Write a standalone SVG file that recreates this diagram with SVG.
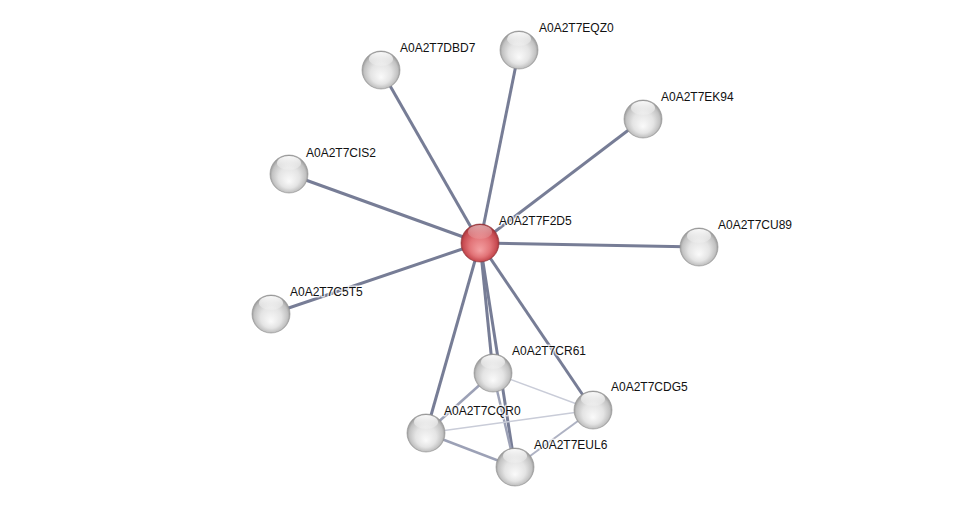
<svg xmlns="http://www.w3.org/2000/svg" width="976" height="512" viewBox="0 0 976 512">
<defs>
<radialGradient id="gw" cx="50%" cy="50%" r="55%" fx="50%" fy="70%">
<stop offset="0" stop-color="#fafafa"/>
<stop offset="0.5" stop-color="#e4e4e4"/>
<stop offset="0.8" stop-color="#c2c2c2"/>
<stop offset="1" stop-color="#7e7e7e"/>
</radialGradient>
<radialGradient id="gr" cx="50%" cy="50%" r="55%" fx="50%" fy="70%">
<stop offset="0" stop-color="#f4a0a2"/>
<stop offset="0.5" stop-color="#e27478"/>
<stop offset="0.8" stop-color="#c84c52"/>
<stop offset="1" stop-color="#8a262b"/>
</radialGradient>
<linearGradient id="hl" x1="0" y1="0" x2="0" y2="1">
<stop offset="0" stop-color="#ffffff" stop-opacity="0.95"/>
<stop offset="1" stop-color="#ffffff" stop-opacity="0.15"/>
</linearGradient>
</defs>
<style>
.e{stroke:#777d96;stroke-width:3;fill:none}
.m{stroke:#9ca1b6;stroke-width:2.5;fill:none}
.l{stroke:#c9ccd8;stroke-width:1.5;fill:none}
.ball{stroke:#8f8f8f;stroke-width:0.6}
text{font-family:"Liberation Sans",Arial,sans-serif;font-size:12px;fill:#111;stroke:#fff;stroke-width:3;stroke-opacity:0.7;paint-order:stroke;stroke-linejoin:round}
</style>
<rect width="976" height="512" fill="#fff"/>
<g id="edges">
<line class="e" x1="480" y1="243" x2="381" y2="70"/>
<line class="e" x1="480" y1="243" x2="519" y2="50"/>
<line class="e" x1="480" y1="243" x2="643" y2="119"/>
<line class="e" x1="480" y1="243" x2="289" y2="174"/>
<line class="e" x1="480" y1="243" x2="699" y2="247"/>
<line class="e" x1="480" y1="243" x2="271" y2="314"/>
<line class="e" x1="480" y1="243" x2="493" y2="373"/>
<line class="e" x1="480" y1="243" x2="593" y2="410"/>
<line class="e" x1="480" y1="243" x2="426" y2="433"/>
<line class="e" x1="480" y1="243" x2="515" y2="467"/>
<line class="m" x1="493" y1="373" x2="426" y2="433"/>
<line class="m" x1="493" y1="373" x2="515" y2="467"/>
<line class="l" x1="493" y1="373" x2="593" y2="410"/>
<line class="l" x1="426" y1="433" x2="593" y2="410"/>
<line class="m" x1="426" y1="433" x2="515" y2="467"/>
<line class="m" x1="515" y1="467" x2="593" y2="410" style="stroke:#aeb2c3;stroke-width:2"/>
</g>
<g id="n-DBD7"><circle class="ball" cx="381" cy="70" r="19" fill="url(#gw)"/><ellipse cx="381" cy="59" rx="12" ry="7" fill="url(#hl)"/><text x="400" y="52">A0A2T7DBD7</text></g>
<g id="n-EQZ0"><circle class="ball" cx="519" cy="50" r="19" fill="url(#gw)"/><ellipse cx="519" cy="39" rx="12" ry="7" fill="url(#hl)"/><text x="539" y="32">A0A2T7EQZ0</text></g>
<g id="n-EK94"><circle class="ball" cx="643" cy="119" r="19" fill="url(#gw)"/><ellipse cx="643" cy="108" rx="12" ry="7" fill="url(#hl)"/><text x="661" y="101">A0A2T7EK94</text></g>
<g id="n-CIS2"><circle class="ball" cx="289" cy="174" r="19" fill="url(#gw)"/><ellipse cx="289" cy="163" rx="12" ry="7" fill="url(#hl)"/><text x="306" y="157">A0A2T7CIS2</text></g>
<g id="n-CU89"><circle class="ball" cx="699" cy="247" r="19" fill="url(#gw)"/><ellipse cx="699" cy="236" rx="12" ry="7" fill="url(#hl)"/><text x="718" y="229">A0A2T7CU89</text></g>
<g id="n-C5T5"><circle class="ball" cx="271" cy="314" r="19" fill="url(#gw)"/><ellipse cx="271" cy="303" rx="12" ry="7" fill="url(#hl)"/><text x="290" y="296">A0A2T7C5T5</text></g>
<g id="n-CR61"><circle class="ball" cx="493" cy="373" r="19" fill="url(#gw)"/><ellipse cx="493" cy="362" rx="12" ry="7" fill="url(#hl)"/><text x="512" y="355">A0A2T7CR61</text></g>
<g id="n-CDG5"><circle class="ball" cx="593" cy="410" r="19" fill="url(#gw)"/><ellipse cx="593" cy="399" rx="12" ry="7" fill="url(#hl)"/><text x="611" y="391">A0A2T7CDG5</text></g>
<g id="n-CQR0"><circle class="ball" cx="426" cy="433" r="19" fill="url(#gw)"/><ellipse cx="426" cy="422" rx="12" ry="7" fill="url(#hl)"/><text x="444" y="415">A0A2T7CQR0</text></g>
<g id="n-EUL6"><circle class="ball" cx="515" cy="467" r="19" fill="url(#gw)"/><ellipse cx="515" cy="456" rx="12" ry="7" fill="url(#hl)"/><text x="534" y="449">A0A2T7EUL6</text></g>
<g id="n-F2D5"><circle cx="480" cy="243" r="19" fill="url(#gr)" stroke="#8a2e33" stroke-width="0.6"/><ellipse cx="480" cy="232" rx="12" ry="7" fill="url(#hl)" opacity="0.55"/><text x="499" y="225">A0A2T7F2D5</text></g>
</svg>
